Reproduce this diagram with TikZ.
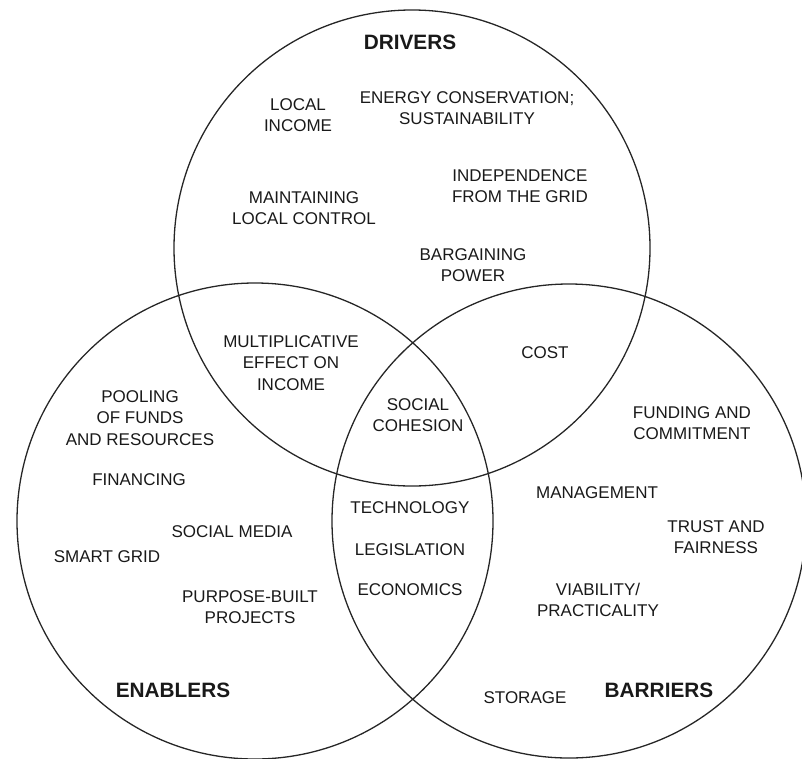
\documentclass[tikz,border=0pt]{standalone}
\usepackage{fontspec}
\setmainfont{Liberation Sans}
\tikzset{
  ring/.style={draw=black!85, line width=1.3pt},
  item/.style={align=center, text=black!90, font=\fontsize{17}{21.5}\selectfont},
  head/.style={text=black!90, font=\fontsize{20.8}{22}\selectfont\bfseries}
}
\begin{document}
\begin{tikzpicture}[x=1pt, y=-1pt]
\useasboundingbox (0,0) rectangle (802,758);
% the three circles
\draw[ring] (412,248) circle (238);
\draw[ring] (255,521) circle (238);
\draw[ring] (569,521) circle (237);
% headings
\node[head] (drivers) at (410,42) {DRIVERS};
\node[head] (enablers) at (173,690) {ENABLERS};
\node[head] (barriers) at (659,690) {BARRIERS};
% drivers only
\node[item] (income) at (298,115) {LOCAL\\INCOME};
\node[item] (energy) at (467,108) {ENERGY CONSERVATION;\\SUSTAINABILITY};
\node[item] (indep) at (520,186) {INDEPENDENCE\\FROM THE GRID};
\node[item] (control) at (304,208) {MAINTAINING\\LOCAL CONTROL};
\node[item] (bargain) at (473,265) {BARGAINING\\POWER};
% overlaps
\node[item] (multi) at (291,363) {MULTIPLICATIVE\\EFFECT ON\\INCOME};
\node[item] (cost) at (545,353) {COST};
\node[item] (cohesion) at (418,415) {SOCIAL\\COHESION};
\node[item] (tech) at (410,508) {TECHNOLOGY};
\node[item] (legis) at (410,550) {LEGISLATION};
\node[item] (econ) at (410,590) {ECONOMICS};
% enablers only
\node[item] (pooling) at (140,418) {POOLING\\OF FUNDS\\AND RESOURCES};
\node[item] (financing) at (139,480) {FINANCING};
\node[item] (media) at (232,532) {SOCIAL MEDIA};
\node[item] (smart) at (107,557) {SMART GRID};
\node[item] (purpose) at (250,607) {PURPOSE-BUILT\\PROJECTS};
% barriers only
\node[item] (funding) at (692,423) {FUNDING AND\\COMMITMENT};
\node[item] (manage) at (597,493) {MANAGEMENT};
\node[item] (trust) at (716,537) {TRUST AND\\FAIRNESS};
\node[item] (viable) at (598,600) {VIABILITY/\\PRACTICALITY};
\node[item] (storage) at (525,698) {STORAGE};
\end{tikzpicture}
\end{document}
